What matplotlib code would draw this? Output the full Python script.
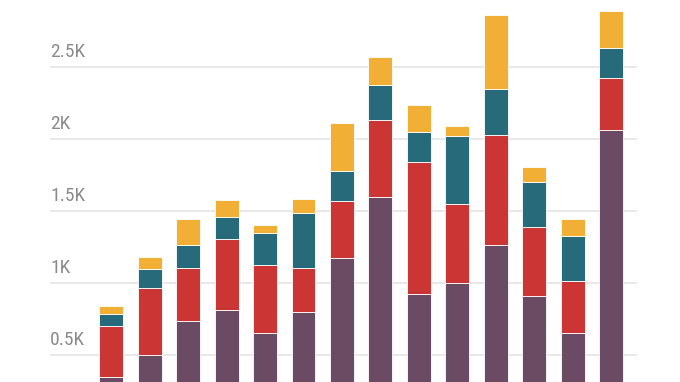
import matplotlib.pyplot as plt
import numpy as np

# valores por segmento (de abajo hacia arriba)
morado = [347, 496, 734, 808, 653, 799, 1169, 1593, 919, 1000, 1260, 910, 653, 2063]
rojo = [352, 469, 370, 498, 468, 305, 396, 535, 921, 549, 766, 479, 359, 361]
azul = [84, 128, 156, 148, 222, 378, 211, 245, 204, 467, 321, 312, 312, 208]
amarillo = [55, 83, 184, 120, 56, 101, 331, 194, 192, 72, 514, 102, 120, 257]

ticks = [500, 1000, 1500, 2000, 2500]
etiquetas = ['0.5K', '1K', '1.5K', '2K', '2.5K']

colores = ['#6b4a63', '#cb3634', '#276a7a', '#f2af36']

fig = plt.figure(figsize=(6.8, 3.82), dpi=100)
ax = fig.add_axes([50 / 680, -0.117, 587 / 680, 1.117])

x = np.arange(len(morado))
base = np.zeros(len(morado))
for serie, color in zip([morado, rojo, azul, amarillo], colores):
    ax.bar(x, serie, bottom=base, width=0.624, color=color,
           edgecolor='white', linewidth=0.6, zorder=3)
    base += np.array(serie)

# lineas de referencia y etiquetas
for t, lab in zip(ticks, etiquetas):
    ax.axhline(t, color='#e6e6e6', linewidth=1.3, zorder=1)
    ax.text(-1.595, t + 38, lab, ha='left', va='bottom', fontsize=14,
            color='#8a8a8a', fontstretch='condensed',
            family=['Roboto Condensed', 'Liberation Sans Narrow', 'Roboto', 'DejaVu Sans'])

ax.set_xlim(-1.595, 13.676)
ax.set_ylim(0, 2963)
ax.axis('off')

fig.savefig('out.png', dpi=100)
